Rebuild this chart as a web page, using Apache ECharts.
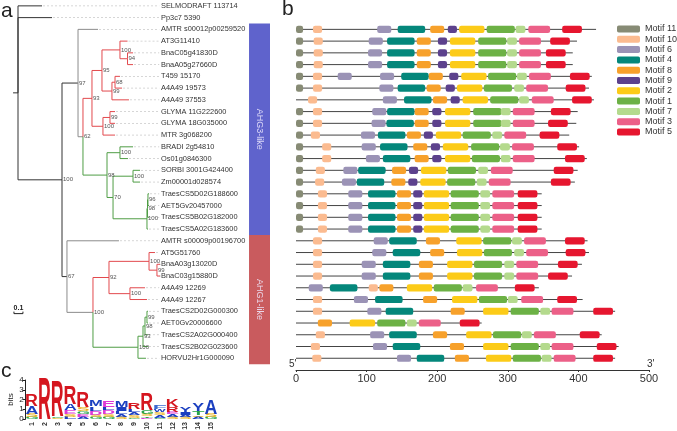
<!DOCTYPE html>
<html>
<head>
<meta charset="utf-8">
<script src="https://cdn.jsdelivr.net/npm/echarts@6/dist/echarts.min.js"></script>
<style>
  html, body { margin: 0; padding: 0; background: #fff; }
  #main { width: 677px; height: 431px; }
</style>
</head>
<body>
<div id="main"></div>
<script>
// ---------- a: tree ----------
const leafNames = ['SELMODRAFT 113714', 'Pp3c7 5390', 'AMTR s00012p00259520', 'AT3G11410', 'BnaC05g41830D',
  'BnaA05g27660D', 'T459 15170', 'A4A49 19573', 'A4A49 37553', 'GLYMA 11G222600', 'GLYMA 18G035000',
  'MTR 3g068200', 'BRADI 2g54810', 'Os01g0846300', 'SORBI 3001G424400', 'Zm00001d028574',
  'TraesCS5D02G188600', 'AET5Gv20457000', 'TraesCS5B02G182000', 'TraesCS5A02G183600',
  'AMTR s00009p00196700', 'AT5G51760', 'BnaA03g13020D', 'BnaC03g15880D', 'A4A49 12269', 'A4A49 12267',
  'TraesCS2D02G000300', 'AET0Gv20006600', 'TraesCS2A02G000400', 'TraesCS2B02G023600', 'HORVU2Hr1G000090'];
const leafParent = ['root', 'root', 'B', 'I', 'K', 'K', 'L', 'L', 'J', 'M', 'M', 'H', 'N', 'N', 'P', 'P',
  'T', 'T', 'S', 'R', 'C', 'X', 'Z', 'Z', 'Y', 'Y', 'AD', 'AD', 'AC', 'AB', 'W'];
const leafDepth = [0.267, 0.378, 0.889, 1.217, 1.278, 1.278, 1.133, 1.156, 1.233, 1.078, 1.078, 1.078,
  1.278, 1.222, 1.356, 1.356, 1.456, 1.456, 1.456, 1.444, 1.122, 1.522, 1.578, 1.578, 1.411, 1.433,
  1.444, 1.444, 1.444, 1.444, 1.422];

const nodeIds     = ['root', 'A', 'B', 'D', 'E', 'G', 'I', 'K', 'J', 'L', 'H', 'M', 'F', 'N', 'Q', 'P', 'R', 'S', 'T', 'C', 'U', 'V', 'X', 'Z', 'Y', 'W', 'AB', 'AC', 'AD'];
const nodeParent  = [null, 'root', 'A', 'B', 'D', 'E', 'G', 'I', 'G', 'J', 'E', 'H', 'D', 'F', 'F', 'Q', 'Q', 'R', 'S', 'A', 'C', 'U', 'V', 'X', 'V', 'U', 'W', 'AB', 'AC'];
const nodeDepth   = [0, 0.489, 0.667, 0.722, 0.822, 0.933, 1.133, 1.217, 1.044, 1.078, 0.944, 1.022, 0.989, 1.133, 1.056, 1.278, 1.433, 1.439, 1.444, 0.544, 0.833, 1.011, 1.456, 1.544, 1.244, 1.333, 1.389, 1.411, 1.433];
const nodeSupport = [null, 100, 97, 62, 93, 95, 100, 94, 99, 68, 100, 99, 98, 100, 70, 100, 100, 98, 96, 67, 100, 92, 100, 99, 100, 100, 93, 98, 99];

// clade colouring starts at these branches, children inherit
const cladeStart = { root: 'base', 'leaf2': 'stem', D: 'stem', E: 'red', F: 'green', 'leaf20': 'stem', U: 'stem', V: 'red', W: 'green' };
const cladeColor = { base: '#333333', stem: '#8c8c8c', red: '#e2494d', green: '#4f9d45' };

const cladeBars = [['AHG3-like', 2, 19, '#5f63cc'], ['AHG1-like', 20, 30, '#c95b5e']];

// ---------- b: motifs ----------
const motifNames = ['Motif 11', 'Motif 10', 'Motif 6', 'Motif 4', 'Motif 8', 'Motif 9', 'Motif 2', 'Motif 1', 'Motif 7', 'Motif 3', 'Motif 5'];
const motifColors = ['#878b75', '#fbbb90', '#9b93b6', '#04877b', '#f7a12b', '#5c418d', '#fccb18', '#6cb145', '#b4da8d', '#ec6088', '#e6162f'];
const motifWidth = [10, 13, 20, 39, 20, 13, 36, 40, 14, 31, 28];

// first motif row is tree row 2 (AMTR s00012p00259520)
const m11 = [0, 0, 0, 0, 0, 0, null, 0, 0, 0, 0, 0, 0, 0, 0, 0, 0, 0, null, null, null, null, null, null, null, null, null, null, null];
const m10 = [24, 25, 25, 25, 24, 24, 17, 24, 24, 21, 37, 37, 28, 27, 31, 31, 31, 31, 24, 24, 24, 24, 103, 24, 24, null, 28, 21, 23];
const m6  = [115, 103, 102, 102, [59, 119], 118, 123, 108, 107, 92, 93, 99, 67, 65, 74, 74, 74, 74, 110, 108, 93, 93, 18, 82, 101, null, 105, 109, 143];
const m4  = [144, 129, 129, 129, 149, 144, 153, 129, 128, 116, 119, 123, 88, 86, 102, 102, 102, 102, 132, 137, 123, 123, 48, 112, 127, null, 132, 137, 171];
const m8  = [190, 171, 171, 171, 188, 185, 194, 168, 168, 157, 166, 168, 136, 135, 143, 143, 143, 143, 184, 190, 174, 174, 118, 180, 219, 31, 194, 218, 225];
const m9  = [215, 201, 201, 201, 217, 212, 219, 193, 193, 181, 191, 193, 160, 159, 166, 166, 166, 166, null, null, null, null, null, null, null, null, null, null, null];
const m2  = [231, 218, 218, 218, 234, 228, 236, 211, 211, 198, 208, 211, 177, 176, 181, 181, 181, 181, 227, 228, 214, 214, 157, 221, 265, 76, 241, 265, 269];
const m1  = [270, 258, 258, 258, 272, 266, 275, 251, 251, 236, 248, 249, 215, 214, 219, 219, 219, 219, 265, 266, 252, 252, 195, 259, 304, 115, 279, 304, 307];
const m7  = [311, 299, 299, 299, 313, 309, 316, 290, 290, 278, 289, 290, 258, 256, 261, 261, 261, 261, 306, 309, 295, 295, 236, 300, 346, 157, 320, 346, 348];
const m3  = [329, 316, 316, 316, 330, 326, 334, 307, 307, 295, 306, 307, 276, 273, 278, 278, 278, 278, 323, 326, 312, 312, 255, 319, 362, 174, 337, 362, 365];
const m5  = [377, 360, 354, 354, 388, 382, 391, 361, 357, 345, 370, 381, 365, 361, 314, 314, 314, 314, 381, 382, 371, 357, 310, 370, 421, 232, 402, 426, 421];
const protLen = [425, 398, 392, 392, 419, 415, 422, 399, 397, 387, 401, 412, 399, 395, 348, 348, 348, 348, 413, 415, 405, 391, 344, 406, 452, 263, 433, 457, 452];
const motifStarts = [m11, m10, m6, m4, m8, m9, m2, m1, m7, m3, m5];

// ---------- c: logo ----------
const logoPos = ['1', '2', '3', '4', '5', '6', '7', '8', '9', '10', '11', '12', '13', '14', '15'];
const logoLetters = [['G', 'S', 'A', 'R'], ['R'], ['S', 'G', 'R'], ['L', 'S', 'E', 'A', 'R'], ['A', 'E', 'G', 'S', 'R'],
  ['G', 'S', 'D', 'L', 'M'], ['G', 'S', 'D', 'L', 'E'], ['S', 'A', 'L', 'I', 'M'], ['G', 'S', 'A', 'L', 'R'],
  ['E', 'T', 'S', 'G', 'R'], ['G', 'A', 'S', 'W', 'F'], ['S', 'A', 'E', 'R', 'K'], ['S', 'A', 'I', 'Y'],
  ['A', 'S', 'T', 'Y'], ['G', 'S', 'A']];
const logoBits = [[0.2, 0.35, 0.75, 1.13], [4.25], [0.15, 0.15, 3.65], [0.2, 0.3, 0.4, 0.6, 1.8], [0.2, 0.3, 0.3, 0.45, 1.55],
  [0.2, 0.25, 0.4, 0.45, 0.6], [0.2, 0.3, 0.45, 0.3, 0.65], [0.2, 0.3, 0.3, 0.4, 0.6], [0.15, 0.25, 0.3, 0.3, 0.7],
  [0.15, 0.15, 0.25, 0.4, 1.75], [0.15, 0.3, 0.25, 0.3, 0.45], [0.2, 0.3, 0.2, 0.55, 0.75], [0.2, 0.2, 0.3, 0.5],
  [0.25, 0.15, 0.45, 0.85], [0.2, 0.35, 1.45]];
const letterColor = { R: '#d5161f', K: '#d5161f', A: '#1b3fc0', M: '#1b3fc0', L: '#1b3fc0', I: '#1b3fc0', Y: '#1b3fc0',
  W: '#1b3fc0', F: '#3b6ad0', E: '#dc3ad6', D: '#dc3ad6', S: '#eab424', G: '#27a34a', T: '#27a34a' };

const FONT = '"Liberation Sans", Arial, sans-serif';

// ---------- tree layout ----------
const kids = {};
nodeIds.forEach(id => kids[id] = []);
nodeParent.forEach((p, i) => { if (p) kids[p].push({ node: nodeIds[i] }); });
leafParent.forEach((p, i) => kids[p].push({ leaf: i }));
const nodeY = {};
function calcY(id) {
  const ys = kids[id].map(k => k.leaf !== undefined ? k.leaf : calcY(k.node));
  nodeY[id] = (Math.min(...ys) + Math.max(...ys)) / 2;
  return nodeY[id];
}
calcY('root');
const depthOf = id => nodeDepth[nodeIds.indexOf(id)];
function cladeOfNode(id) {
  if (cladeStart[id]) return cladeStart[id];
  return cladeOfNode(nodeParent[nodeIds.indexOf(id)]);
}
function cladeOfLeaf(i) {
  return cladeStart['leaf' + i] || cladeOfNode(leafParent[i]);
}

const edges = [];   // [parentDepth, parentY, childDepth, childY], colour
nodeIds.forEach((id, i) => {
  if (!nodeParent[i]) return;
  edges.push({ value: [depthOf(nodeParent[i]), nodeY[nodeParent[i]], nodeDepth[i], nodeY[id]], c: cladeColor[cladeOfNode(id)] });
});
leafNames.forEach((n, i) => {
  edges.push({ value: [depthOf(leafParent[i]), nodeY[leafParent[i]], leafDepth[i], i], c: cladeColor[cladeOfLeaf(i)] });
});
edges.push({ value: [-0.055, nodeY.root, 0, nodeY.root], c: cladeColor.base });

const labelDepth = 1.589;
const barDepth = [2.567, 2.8];

// ---------- logo glyph metrics ----------
const mctx = document.createElement('canvas').getContext('2d');
const GLYPH_FONT = 'bold 40px ' + FONT;
const glyphBox = {};
function getBox(ch) {
  if (!glyphBox[ch]) {
    mctx.font = GLYPH_FONT;
    mctx.textAlign = 'center';
    mctx.textBaseline = 'middle';
    const m = mctx.measureText(ch);
    glyphBox[ch] = { l: -m.actualBoundingBoxLeft, r: m.actualBoundingBoxRight, t: -m.actualBoundingBoxAscent, b: m.actualBoundingBoxDescent };
  }
  return glyphBox[ch];
}

const chart = echarts.init(document.getElementById('main'));

const series = [];

// tree branches
series.push({
  type: 'custom', xAxisIndex: 0, yAxisIndex: 0, z: 3, silent: true,
  data: edges.map(e => e.value),
  renderItem: (params, api) => {
    const pd = api.value(0), py = api.value(1), cd = api.value(2), cy = api.value(3);
    const a = api.coord([pd, py]), b = api.coord([pd, cy]), c = api.coord([cd, cy]);
    return { type: 'polyline', shape: { points: [a, b, c] },
      style: { stroke: edges[params.dataIndex].c, lineWidth: 1, fill: null } };
  }
});
// leaders + leaf labels
series.push({
  type: 'custom', xAxisIndex: 0, yAxisIndex: 0, z: 2, silent: true,
  data: leafNames.map((n, i) => [leafDepth[i], i]),
  renderItem: (params, api) => {
    const i = params.dataIndex;
    const a = api.coord([api.value(0), i]), b = api.coord([labelDepth - 0.02, i]), t = api.coord([labelDepth, i]);
    return { type: 'group', children: [
      { type: 'line', shape: { x1: a[0] + 1, y1: a[1], x2: b[0], y2: b[1] },
        style: { stroke: '#c4c4c4', lineWidth: 0.7, lineDash: [2, 2] } },
      { type: 'text', x: t[0], y: t[1],
        style: { text: leafNames[i], font: '7.4px ' + FONT, fill: '#333', align: 'left', verticalAlign: 'middle' } }
    ] };
  }
});
// bootstrap values
series.push({
  type: 'custom', xAxisIndex: 0, yAxisIndex: 0, z: 4, silent: true,
  data: nodeIds.map((id, i) => [nodeDepth[i], nodeY[id], nodeSupport[i]]).filter(d => d[2] !== null),
  renderItem: (params, api) => {
    const p = api.coord([api.value(0), api.value(1)]);
    return { type: 'text', x: p[0] + 1, y: p[1],
      style: { text: String(api.value(2)), font: '6px ' + FONT, fill: '#555', align: 'left', verticalAlign: 'middle' } };
  }
});
// clade bars
series.push({
  type: 'custom', xAxisIndex: 0, yAxisIndex: 0, z: 2, silent: true,
  data: cladeBars.map(b => [b[1], b[2]]),
  renderItem: (params, api) => {
    const bar = cladeBars[params.dataIndex];
    const p0 = api.coord([barDepth[0], api.value(0) - 0.5]), p1 = api.coord([barDepth[1], api.value(1) + 0.5]);
    return { type: 'group', children: [
      { type: 'rect', shape: { x: p0[0], y: p0[1], width: p1[0] - p0[0], height: p1[1] - p0[1] }, style: { fill: bar[3] } },
      { type: 'text', x: (p0[0] + p1[0]) / 2, y: (p0[1] + p1[1]) / 2, rotation: -Math.PI / 2,
        style: { text: bar[0], font: '9px ' + FONT, fill: 'rgba(240,235,255,0.85)', align: 'center', verticalAlign: 'middle' } }
    ] };
  }
});
// scale bar 0.1
series.push({
  type: 'custom', xAxisIndex: 0, yAxisIndex: 0, z: 2, silent: true,
  data: [[-0.045, 26.2]],
  renderItem: (params, api) => {
    const x0 = api.value(0), y = api.value(1);
    const a = api.coord([x0, y]), b = api.coord([x0 + 0.1, y]);
    return { type: 'group', children: [
      { type: 'polyline', shape: { points: [[a[0], a[1] - 2], [a[0], a[1]], [b[0], b[1]], [b[0], b[1] - 2]] },
        style: { stroke: '#222', lineWidth: 1, fill: null } },
      { type: 'text', x: (a[0] + b[0]) / 2, y: a[1] - 6,
        style: { text: '0.1', font: 'bold 7px ' + FONT, fill: '#222', align: 'center', verticalAlign: 'middle' } }
    ] };
  }
});

// protein backbones
series.push({
  type: 'custom', xAxisIndex: 1, yAxisIndex: 1, z: 2, silent: true,
  data: protLen.map((len, r) => [r + 2, len]),
  renderItem: (params, api) => {
    const a = api.coord([0, api.value(0)]), b = api.coord([api.value(1), api.value(0)]);
    return { type: 'line', shape: { x1: a[0], y1: a[1], x2: b[0], y2: b[1] }, style: { stroke: '#444', lineWidth: 1 } };
  }
});
// motif boxes
motifNames.forEach((name, k) => {
  const data = [];
  motifStarts[k].forEach((s, r) => {
    if (s === null) return;
    (Array.isArray(s) ? s : [s]).forEach(v => data.push([r + 2, v, motifWidth[k]]));
  });
  series.push({
    type: 'custom', name: name, xAxisIndex: 1, yAxisIndex: 1, z: 3, silent: true,
    itemStyle: { color: motifColors[k] },
    data: data,
    renderItem: (params, api) => {
      const a = api.coord([api.value(1), api.value(0)]), b = api.coord([api.value(1) + api.value(2), api.value(0)]);
      return { type: 'rect', shape: { x: a[0], y: a[1] - 3.6, width: b[0] - a[0], height: 7.2, r: 2.2 },
        style: { fill: api.visual('color') } };
    }
  });
});

// sequence logo
series.push({
  type: 'custom', xAxisIndex: 2, yAxisIndex: 2, z: 3, silent: true,
  data: logoPos.map((p, i) => [i, logoBits[i].reduce((s, v) => s + v, 0)]),
  renderItem: (params, api) => {
    const i = params.dataIndex;
    const band = api.size([1, 0])[0];
    const cx = api.coord([i, 0])[0];
    const w = band * 0.94;
    let base = 0;
    const children = [];
    logoLetters[i].forEach((ch, j) => {
      const h = logoBits[i][j];
      const yb = api.coord([i, base])[1], yt = api.coord([i, base + h])[1];
      base += h;
      if (yb - yt < 0.4) return;
      const bb = getBox(ch);
      const sx = w / (bb.r - bb.l), sy = (yb - yt) / (bb.b - bb.t);
      children.push({ type: 'text', x: cx - w / 2 - bb.l * sx, y: yt - bb.t * sy, scaleX: sx, scaleY: sy,
        style: { text: ch, font: GLYPH_FONT, fill: letterColor[ch], align: 'center', verticalAlign: 'middle' } });
    });
    return { type: 'group', children: children };
  }
});

const option = {
  backgroundColor: '#fff',
  animation: false,
  textStyle: { fontFamily: FONT },
  grid: [
    { left: 9, top: 0, width: 261, height: 370, outerBoundsMode: 'none' },
    { left: 296, top: 0, width: 353, height: 370, outerBoundsMode: 'none' },
    { left: 25.6, top: 380, width: 191.8, height: 39, outerBoundsMode: 'none' }
  ],
  xAxis: [
    { gridIndex: 0, type: 'value', min: -0.1, max: 2.8, show: false },
    { gridIndex: 1, type: 'value', min: 0, max: 500, interval: 100, position: 'bottom',
      axisLine: { onZero: false, lineStyle: { color: '#333', width: 1 } },
      axisTick: { show: true, length: 2, lineStyle: { color: '#333' } },
      axisLabel: { fontSize: 11, color: '#333', margin: 3, fontFamily: FONT },
      splitLine: { show: false } },
    { gridIndex: 2, type: 'category', data: logoPos, position: 'bottom',
      axisLine: { show: false }, axisTick: { show: false },
      axisLabel: { rotate: 90, fontSize: 7, fontWeight: 'bold', color: '#333', margin: 3, interval: 0, fontFamily: FONT } }
  ],
  yAxis: [
    { gridIndex: 0, type: 'value', min: -0.5, max: 31, inverse: true, show: false },
    { gridIndex: 1, type: 'value', min: -0.5, max: 31, inverse: true, show: false },
    { gridIndex: 2, type: 'value', min: 0, max: 4, interval: 1,
      axisLine: { show: true, onZero: false, lineStyle: { color: '#222' } },
      axisTick: { show: true, length: 3, lineStyle: { color: '#222' } },
      axisLabel: { fontSize: 8, color: '#222', margin: 2, fontFamily: FONT },
      splitLine: { show: false },
      name: 'bits', nameLocation: 'middle', nameGap: 9, nameRotate: 90,
      nameTextStyle: { fontSize: 8, color: '#222', fontFamily: FONT } }
  ],
  legend: {
    data: motifNames, orient: 'vertical', left: 617, top: 24.5, padding: 0,
    icon: 'roundRect', itemWidth: 23, itemHeight: 7, itemGap: 1.3, selectedMode: false,
    textStyle: { fontSize: 9, lineHeight: 9, color: '#333', fontFamily: FONT }
  },
  graphic: [
    { type: 'text', left: 1, top: 0.5, style: { text: 'a', font: '21px ' + FONT, fill: '#222' } },
    { type: 'text', left: 282, top: -1, style: { text: 'b', font: '21px ' + FONT, fill: '#222' } },
    { type: 'text', left: 1, top: 361, style: { text: 'c', font: '21px ' + FONT, fill: '#222' } },
    { type: 'text', left: 289, top: 359, style: { text: "5'", font: '10px ' + FONT, fill: '#333' } },
    { type: 'text', left: 647, top: 359, style: { text: "3'", font: '10px ' + FONT, fill: '#333' } }
  ],
  series: series
};

chart.setOption(option);
</script>
</body>
</html>
